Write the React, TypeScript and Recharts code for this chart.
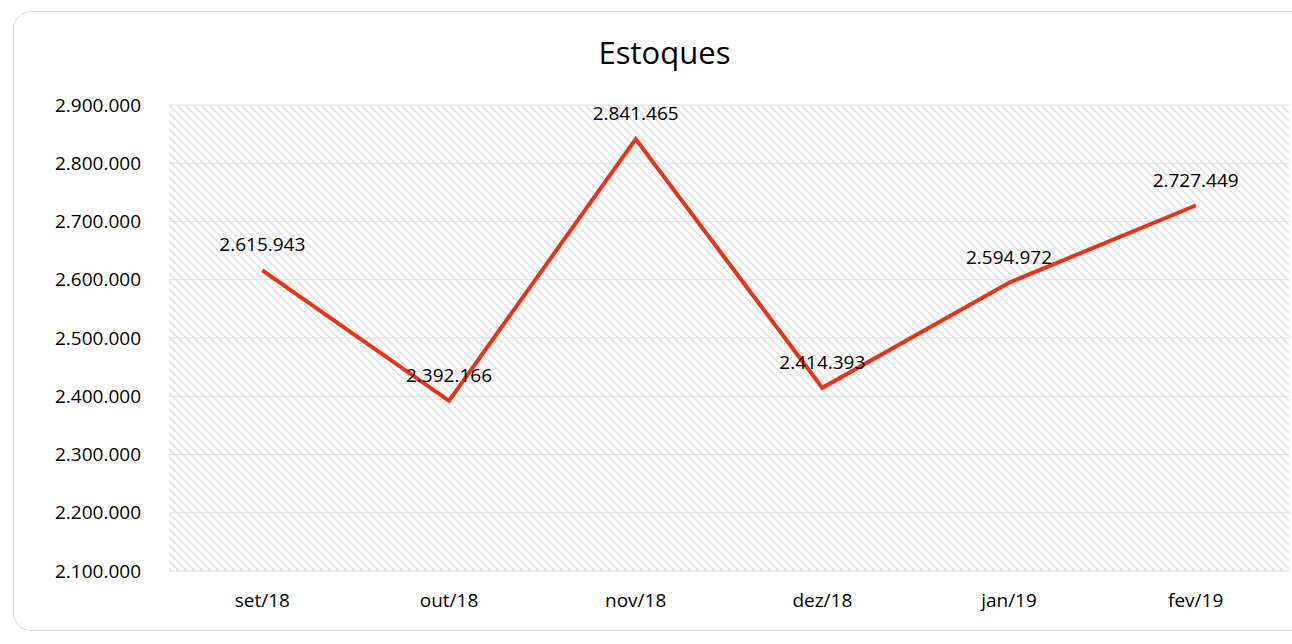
import React from "react";
import { LineChart, Line, XAxis, YAxis, CartesianGrid, LabelList } from "recharts";

const categories = ["set/18", "out/18", "nov/18", "dez/18", "jan/19", "fev/19"];
const estoques = [2615943, 2392166, 2841465, 2414393, 2594972, 2727449];
const yTicks = [2100000, 2200000, 2300000, 2400000, 2500000, 2600000, 2700000, 2800000, 2900000];
const centerTicks = [0.5, 1.5, 2.5, 3.5, 4.5, 5.5];
const boundaryTicks = [0, 1, 2, 3, 4, 5, 6];

const data = categories.map((c, i) => ({ pos: i + 0.5, name: c, value: estoques[i] }));

const fmt = (v: number) => Math.round(v).toString().replace(/\B(?=(\d{3})+(?!\d))/g, ".");

const FONT = "'Segoe UI', 'Open Sans', 'Noto Sans', sans-serif";

export default function App() {
  return (
    <div style={{ position: "absolute", left: 0, top: 0, width: 1292, height: 644, background: "#fff", overflow: "hidden", fontFamily: FONT }}>
      <svg width={0} height={0} style={{ position: "absolute" }}>
        <defs>
          <pattern id="hatch" width={8} height={8} patternUnits="userSpaceOnUse">
            <rect width={8} height={8} fill="#ffffff" />
            <path d="M-2,-2 L10,10 M-6,2 L2,10 M6,-6 L14,2" stroke="#e4e4e4" strokeWidth={1.9} />
          </pattern>
        </defs>
      </svg>
      <div style={{ position: "absolute", left: 13, top: 11, width: 1320, height: 620, border: "1.5px solid #d9d9d9", borderRadius: 18, boxSizing: "border-box" }} />
      <div style={{ position: "absolute", left: 0, top: 31, width: 1329, textAlign: "center", fontSize: 31, color: "#000", lineHeight: "42px" }}>Estoques</div>
      <div style={{ position: "absolute", left: 0, top: 0 }}>
        <LineChart width={1292} height={644} data={data} margin={{ top: 105, right: 3, bottom: 0, left: 0 }}>
          <CartesianGrid vertical={false} stroke="#e0e0e0" fill="url(#hatch)" fillOpacity={1} horizontalValues={yTicks} />
          <XAxis
            xAxisId="lab"
            dataKey="pos"
            type="number"
            domain={[0, 6]}
            ticks={centerTicks}
            tickFormatter={(v: number) => categories[Math.floor(v)]}
            axisLine={false}
            tickLine={false}
            tickSize={0}
            tickMargin={23}
            height={73}
            tick={{ fill: "#000", fontSize: 19, fontFamily: FONT }}
            interval={0}
          />
          <XAxis
            xAxisId="bnd"
            dataKey="pos"
            type="number"
            domain={[0, 6]}
            ticks={boundaryTicks}
            tickFormatter={() => ""}
            axisLine={{ stroke: "#d9d9d9", strokeWidth: 1.5 }}
            tickLine={{ stroke: "#d9d9d9", strokeWidth: 1.5 }}
            tickSize={7}
            height={0}
            interval={0}
          />
          <YAxis
            type="number"
            domain={[2100000, 2900000]}
            ticks={yTicks}
            tickFormatter={fmt}
            width={169}
            axisLine={false}
            tickLine={false}
            tickSize={0}
            tickMargin={28}
            tick={{ fill: "#000", fontSize: 19, fontFamily: FONT }}
            interval={0}
          />
          <Line
            xAxisId="lab"
            dataKey="value"
            stroke="#E8331B"
            strokeWidth={4}
            dot={false}
            isAnimationActive={false}
          >
            <LabelList dataKey="value" position="top" offset={19} formatter={(v: number) => fmt(v)} fill="#000" fontSize={19} fontFamily={FONT} />
          </Line>
        </LineChart>
      </div>
    </div>
  );
}
